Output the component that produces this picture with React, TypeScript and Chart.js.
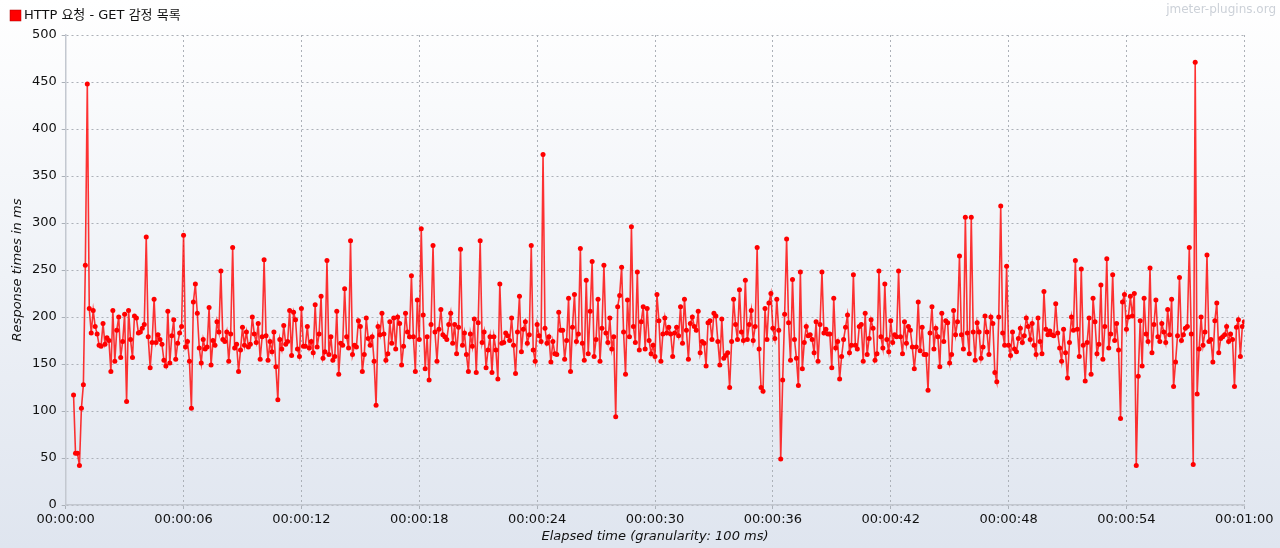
import React, { useEffect, useRef } from "react";
import { Chart, registerables } from "chart.js";

Chart.register(...registerables);

const seriesLabel = "HTTP 요청 - GET 감정 목록";
const watermarkText = "jmeter-plugins.org";
const xAxisTitle = "Elapsed time (granularity: 100 ms)";
const yAxisTitle = "Response times in ms";

const firstElapsedSec = 0.4;
const granularitySec = 0.1;

const xTickLabels = [
  "00:00:00", "00:00:06", "00:00:12", "00:00:18", "00:00:24", "00:00:30",
  "00:00:36", "00:00:42", "00:00:48", "00:00:54", "00:01:00",
];

// response times (ms), one per 100 ms bucket
const ms00to06 = [117,55,55,42,103,128,255,448,209,183,207,190,182,170,169,193,171,178,175,142,207,153,186,200,157,174,203,110,207,176,157,201,199,183,184,188,192,285,179,146,173,219,173,181,176,171,154,148,206,151,180,197,155,172,183];
const ms06to12 = [190,287,168,174,153,103,216,235,204,167,151,176,166,168,210,149,175,170,195,184,249,176,174,184,153,182,274,167,171,142,165,189,170,184,168,171,200,182,173,193,155,179,261,180,154,174,163,184,147,112,176,166,191,171,174,207,159,205,197,166];
const ms12to18 = [158,209,169,169,190,167,174,162,213,168,182,222,156,163,260,160,179,154,158,206,139,172,170,230,179,167,281,160,170,168,196,190,142,160,199,177,170,179,153,106,190,181,204,182,154,161,195,172,199,166,200,193,149,169,204,184,179,244,179,142];
const ms18to24 = [218,176,294,202,145,179,133,192,276,184,153,187,208,181,179,176,192,204,172,192,161,189,272,170,183,160,142,182,169,198,141,194,281,173,184,146,165,179,141,179,165,134,235,172,173,183,180,175,199,170,140,184,222,163,187,195,172,181,276,165];
const ms24to30 = [153,192,180,174,373,188,172,179,152,174,161,160,205,186,186,155,175,220,142,189,224,174,182,273,172,154,239,161,206,259,158,176,219,153,188,255,183,173,199,166,179,94,211,223,253,184,139,218,179,296,190,173,248,165,195,211,166,209,175,161];
const ms30to36 = [170,158,224,196,153,182,199,183,189,182,158,183,189,180,211,172,219,186,155,193,200,190,186,206,162,174,172,148,194,196,176,204,201,174,149,198,156,159,162,125,174,219,192,176,229,184,175,239,176,192,207,175,190,274,166,125,121,209,176,215];
const ms36to42 = [225,188,177,219,186,49,133,203,283,194,154,240,176,156,127,248,145,173,190,180,181,176,162,195,153,192,248,183,187,182,182,146,220,167,174,134,158,176,189,202,162,170,245,170,166,190,192,153,204,160,177,197,188,154,161,249,179,167,235,176];
const ms42to48 = [163,196,173,181,179,249,179,161,195,172,190,186,168,145,168,216,164,189,160,160,122,183,211,166,188,179,147,204,174,196,194,151,160,207,181,195,265,181,166,306,183,161,306,184,154,194,184,156,168,201,184,160,200,193,141,131,200,318,183,170];
const ms48to54 = [254,170,159,184,166,163,177,188,173,180,199,190,176,193,170,160,199,174,161,227,187,181,185,181,180,214,183,167,153,187,162,135,173,200,186,260,187,158,251,170,132,173,199,139,220,195,161,171,234,155,190,262,167,182,245,175,193,165,92,216];
const ms54to60 = [224,187,200,222,201,225,42,137,196,148,220,182,174,252,162,192,218,179,174,193,184,173,208,181,219,126,152,180,242,175,181,188,190,274,182,43,471,118,166,200,170,184,266,174,176,152,196,215,162,177,179,181,190,174,182,176,126,189,197,158,190,195];

const yTickValues = [0, 50, 100, 150, 200, 250, 300, 350, 400, 450, 500];

const FONT = '"DejaVu Sans", "Noto Sans CJK KR", sans-serif';

export default function App() {
  const canvasRef = useRef<HTMLCanvasElement | null>(null);

  useEffect(() => {
    document.body.style.margin = "0";
    document.body.style.overflow = "hidden";
    const canvas = canvasRef.current;
    if (!canvas) return;

    const allValues = [
      ...ms00to06, ...ms06to12, ...ms12to18, ...ms18to24, ...ms24to30,
      ...ms30to36, ...ms36to42, ...ms42to48, ...ms48to54, ...ms54to60,
    ];
    const points = allValues.map((v, i) => ({
      x: Math.round((firstElapsedSec + i * granularitySec) * 10) / 10,
      y: v,
    }));

    const backgroundPlugin = {
      id: "jmeterBackground",
      beforeDraw(chart: any) {
        const { ctx, width, height } = chart;
        ctx.save();
        const g = ctx.createLinearGradient(0, 0, 0, height);
        g.addColorStop(0, "#ffffff");
        g.addColorStop(1, "#dfe5ef");
        ctx.fillStyle = g;
        ctx.fillRect(0, 0, width, height);
        ctx.restore();
      },
    };

    const headerPlugin = {
      id: "jmeterHeader",
      afterDraw(chart: any) {
        const { ctx, width } = chart;
        ctx.save();
        ctx.fillStyle = "#ff0000";
        ctx.fillRect(10, 10, 11, 11);
        ctx.strokeStyle = "#b00000";
        ctx.lineWidth = 0.5;
        ctx.strokeRect(10, 10, 11, 11);
        ctx.fillStyle = "#111111";
        ctx.font = `13px ${FONT}`;
        ctx.textBaseline = "middle";
        ctx.textAlign = "left";
        ctx.fillText(seriesLabel, 24, 16);
        ctx.fillStyle = "#ccd1d8";
        ctx.font = `12px ${FONT}`;
        ctx.textAlign = "right";
        ctx.fillText(watermarkText, width - 4, 10);
        ctx.restore();
      },
    };

    const chart = new Chart(canvas, {
      type: "line",
      data: {
        datasets: [
          {
            label: seriesLabel,
            data: points,
            borderColor: "rgba(255,0,0,0.8)",
            borderWidth: 1.6,
            pointRadius: 2.5,
            pointBackgroundColor: "#ff0000",
            pointBorderWidth: 0,
            tension: 0,
            fill: false,
          },
        ],
      },
      options: {
        animation: false,
        responsive: false,
        devicePixelRatio: 1,
        layout: { padding: { top: 35, right: 35.7, bottom: 0, left: 0 } },
        plugins: {
          legend: { display: false },
          tooltip: { enabled: false },
        },
        scales: {
          x: {
            type: "linear",
            min: 0,
            max: 60,
            afterFit(scale: any) {
              scale.height = 43;
            },
            afterBuildTicks(scale: any) {
              scale.ticks = xTickLabels.map((_, i) => ({ value: i * 6 }));
            },
            ticks: {
              callback: (value: any) => xTickLabels[Math.round(Number(value) / 6)],
              color: "#111111",
              font: { family: FONT, size: 13 },
              padding: 3,
              maxRotation: 0,
              autoSkip: false,
            },
            grid: {
              color: "#acb1b8",
              lineWidth: 1,
              drawTicks: true,
              tickLength: 4,
              tickColor: "#aab0b8",
              tickBorderDash: [],
            },
            border: { display: true, color: "#c3c8d0", width: 1.5, dash: [2, 3] },
            title: {
              display: true,
              text: xAxisTitle,
              color: "#111111",
              font: { family: FONT, size: 13, style: "italic" },
              padding: { top: 0, bottom: 4 },
            },
          },
          y: {
            type: "linear",
            min: 0,
            max: 500,
            afterFit(scale: any) {
              scale.width = 65.7;
            },
            afterBuildTicks(scale: any) {
              scale.ticks = yTickValues.map((v) => ({ value: v }));
            },
            ticks: {
              color: "#111111",
              font: { family: FONT, size: 13 },
              padding: 5,
            },
            grid: {
              color: "#acb1b8",
              lineWidth: 1,
              drawTicks: true,
              tickLength: 4,
              tickColor: "#aab0b8",
              tickBorderDash: [],
            },
            border: { display: true, color: "#c3c8d0", width: 1.5, dash: [2, 3] },
            title: {
              display: true,
              text: yAxisTitle,
              color: "#111111",
              font: { family: FONT, size: 13, style: "italic" },
              padding: { top: 10, bottom: 0 },
            },
          },
        },
      },
      plugins: [backgroundPlugin, headerPlugin],
    });

    return () => {
      chart.destroy();
    };
  }, []);

  return (
    <div style={{ width: 1280, height: 548, overflow: "hidden" }}>
      <canvas ref={canvasRef} width={1280} height={548} style={{ display: "block" }} />
    </div>
  );
}
